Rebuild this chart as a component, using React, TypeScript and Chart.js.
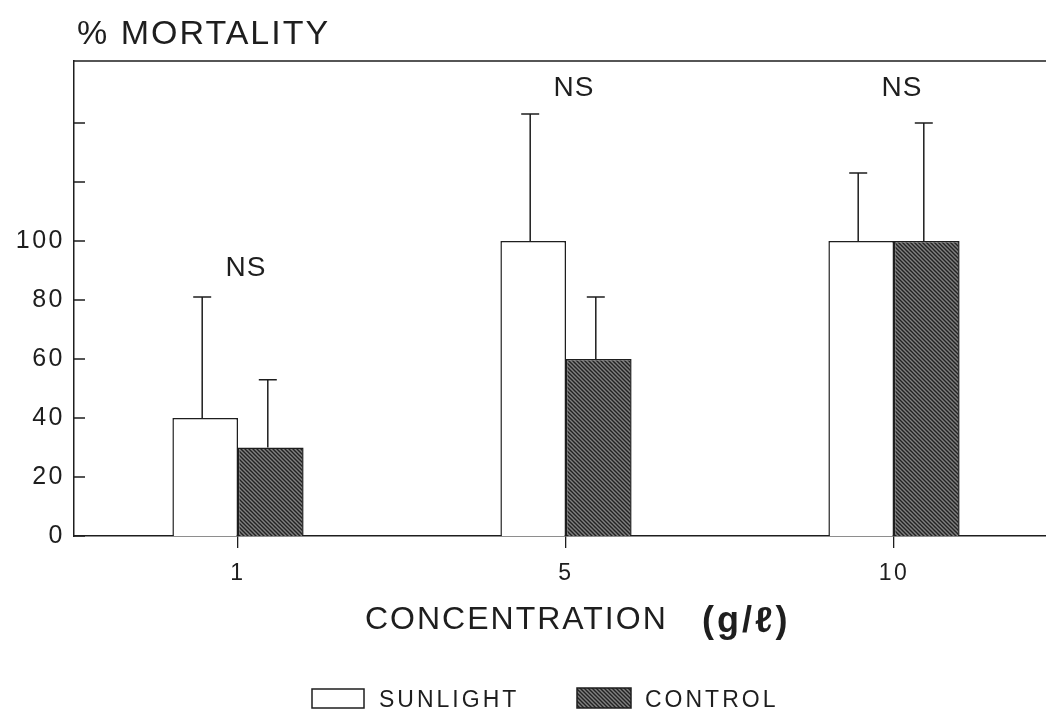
import React, { useEffect, useRef } from 'react';
import { Chart, registerables } from 'chart.js';

Chart.register(...registerables);

const categories = ['1', '5', '10'];
const sunlightValues = [40, 100, 100];
const sunlightErrors = [41, 43, 23];
const controlValues = [30, 60, 100];
const controlErrors = [23, 21, 40];
const nsLabelY = [88, 149, 149];
const yTickValues = [0, 20, 40, 60, 80, 100, 120, 140];
const yLabelMax = 100;
const yAxisMax = 161;

const FONT = '"Liberation Sans", Arial, Helvetica, sans-serif';
const INK = '#1e1e1e';

function makePattern(ctx: CanvasRenderingContext2D) {
  const tile = document.createElement('canvas');
  tile.width = 4;
  tile.height = 4;
  const t = tile.getContext('2d')!;
  t.fillStyle = '#808080';
  t.fillRect(0, 0, 4, 4);
  t.strokeStyle = '#222222';
  t.lineWidth = 1.4;
  t.beginPath();
  t.moveTo(-1, -1); t.lineTo(5, 5);
  t.moveTo(-1, 3); t.lineTo(1, 5);
  t.moveTo(3, -1); t.lineTo(5, 1);
  t.stroke();
  return ctx.createPattern(tile, 'repeat')!;
}

export default function App() {
  const canvasRef = useRef<HTMLCanvasElement | null>(null);

  useEffect(() => {
    const canvas = canvasRef.current!;
    const ctx0 = canvas.getContext('2d')!;
    const pattern = makePattern(ctx0);

    const overlay = {
      id: 'overlay',
      beforeDraw(chart: any) {
        chart.ctx.letterSpacing = '2.5px';
      },
      afterDatasetsDraw(chart: any) {
        const { ctx, chartArea, scales } = chart;
        const x = scales.x;
        const y = scales.y;
        ctx.save();
        ctx.letterSpacing = '0px';
        ctx.strokeStyle = INK;
        ctx.lineWidth = 1.5;
        // top frame line
        ctx.beginPath();
        ctx.moveTo(chartArea.left, chartArea.top);
        ctx.lineTo(chartArea.right, chartArea.top);
        ctx.stroke();
        // inward y ticks
        ctx.beginPath();
        yTickValues.forEach((v) => {
          const py = y.getPixelForValue(v);
          ctx.moveTo(chartArea.left, py);
          ctx.lineTo(chartArea.left + 11, py);
        });
        ctx.stroke();
        // error bars (upper only)
        const sets: [number, number[]][] = [[0, sunlightErrors], [1, controlErrors]];
        ctx.beginPath();
        sets.forEach(([di, errs]) => {
          const meta = chart.getDatasetMeta(di);
          meta.data.forEach((bar: any, i: number) => {
            const val = chart.data.datasets[di].data[i] as number;
            const top = y.getPixelForValue(val + errs[i]);
            const bx = bar.x - 3;
            ctx.moveTo(bx, bar.y);
            ctx.lineTo(bx, top);
            ctx.moveTo(bx - 9, top);
            ctx.lineTo(bx + 9, top);
          });
        });
        ctx.stroke();
        // NS labels
        ctx.fillStyle = INK;
        ctx.font = `28px ${FONT}`;
        ctx.textAlign = 'center';
        ctx.textBaseline = 'alphabetic';
        ctx.letterSpacing = '1px';
        categories.forEach((_, i) => {
          ctx.fillText('NS', x.getPixelForValue(i) + 8, y.getPixelForValue(nsLabelY[i]));
        });
        ctx.restore();
      },
      afterDraw(chart: any) {
        const { ctx } = chart;
        ctx.save();
        ctx.fillStyle = INK;
        ctx.textAlign = 'left';
        ctx.textBaseline = 'alphabetic';
        // y title
        ctx.font = `34px ${FONT}`;
        ctx.letterSpacing = '2px';
        ctx.fillText('% MORTALITY', 77, 44);
        // x title
        ctx.font = `32px ${FONT}`;
        ctx.letterSpacing = '2px';
        ctx.fillText('CONCENTRATION', 365, 629);
        ctx.font = `bold 36px ${FONT}`;
        ctx.letterSpacing = '3px';
        ctx.fillText('(g/ℓ)', 702, 632);
        // legend
        ctx.lineWidth = 1.5;
        ctx.strokeStyle = INK;
        ctx.fillStyle = '#ffffff';
        ctx.fillRect(312, 689, 52, 19);
        ctx.strokeRect(312, 689, 52, 19);
        ctx.fillStyle = pattern;
        ctx.fillRect(577, 688, 54, 20);
        ctx.strokeRect(577, 688, 54, 20);
        ctx.fillStyle = INK;
        ctx.font = `23px ${FONT}`;
        ctx.letterSpacing = '3px';
        ctx.fillText('SUNLIGHT', 379, 707);
        ctx.fillText('CONTROL', 645, 707);
        ctx.restore();
      },
    };

    const chart = new Chart(canvas, {
      type: 'bar',
      data: {
        labels: categories,
        datasets: [
          {
            label: 'SUNLIGHT',
            data: sunlightValues,
            backgroundColor: '#ffffff',
            borderColor: INK,
            borderWidth: 1.5,
            borderSkipped: 'bottom',
          },
          {
            label: 'CONTROL',
            data: controlValues,
            backgroundColor: pattern as any,
            borderColor: INK,
            borderWidth: 1.5,
            borderSkipped: 'bottom',
          },
        ],
      },
      options: {
        animation: false,
        responsive: true,
        maintainAspectRatio: false,
        layout: { padding: { left: 0, top: 61, right: 0, bottom: 135 } },
        datasets: { bar: { categoryPercentage: 0.4, barPercentage: 1.0 } },
        plugins: { legend: { display: false }, tooltip: { enabled: false } },
        scales: {
          x: {
            type: 'category',
            offset: true,
            grid: {
              display: true,
              drawOnChartArea: false,
              drawTicks: true,
              tickLength: 12,
              offset: false,
              color: INK,
              lineWidth: 1.3,
            },
            border: { display: true, color: INK, width: 1.5 },
            ticks: { color: INK, font: { family: FONT, size: 23 }, padding: 12, maxRotation: 0 },
            afterFit: (scale: any) => {
              scale.height = 44;
            },
          },
          y: {
            type: 'linear',
            min: 0,
            max: yAxisMax,
            grid: { display: false, drawTicks: false },
            border: { display: true, color: INK, width: 1.5 },
            ticks: {
              stepSize: 20,
              color: INK,
              font: { family: FONT, size: 25 },
              padding: 9,
              callback: (v: any) => (Number(v) <= yLabelMax && Number(v) % 20 === 0 ? String(v) : ''),
            },
            afterFit: (scale: any) => {
              scale.width = 74;
            },
          },
        },
      },
      plugins: [overlay],
    });

    return () => chart.destroy();
  }, []);

  return (
    <div style={{ position: 'absolute', left: 0, top: 0, width: 1046, height: 715, overflow: 'hidden', background: '#fff' }}>
      <div style={{ position: 'absolute', left: 0, top: 0, width: 1058, height: 715 }}>
        <canvas ref={canvasRef} />
      </div>
    </div>
  );
}
